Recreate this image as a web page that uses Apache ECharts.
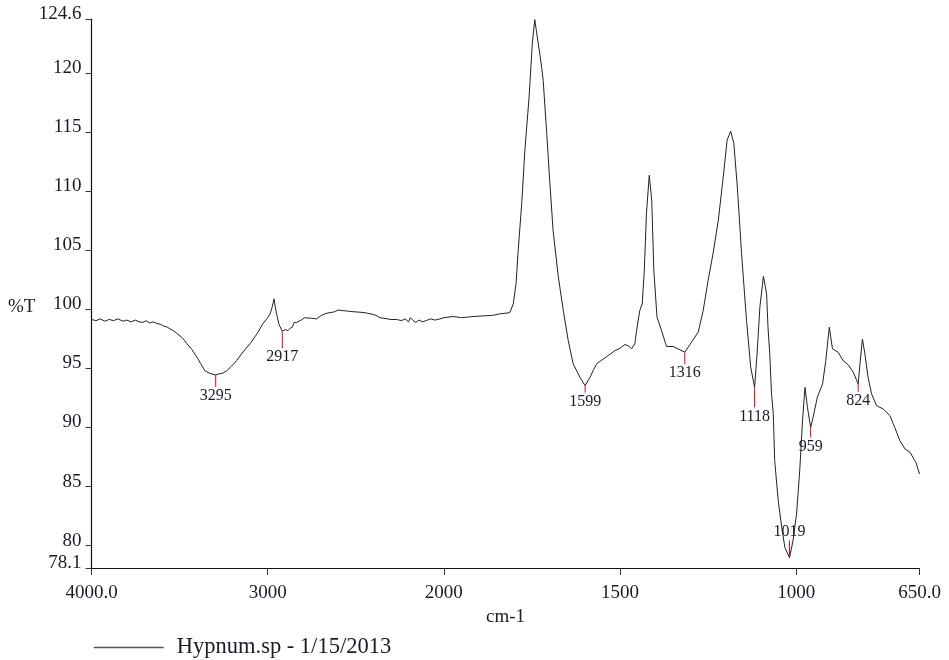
<!DOCTYPE html>
<html>
<head>
<meta charset="utf-8">
<script src="https://cdn.jsdelivr.net/npm/echarts@6/dist/echarts.min.js"></script>
<style>
html, body { margin: 0; padding: 0; background: #fff; }
#Chart { width: 949px; height: 660px; }
</style>
</head>
<body>
<div id="Chart"></div>
<script>
// spectrum (wavenumber cm-1 / %T)
var wavenumbers = [4000, 3975, 3950, 3925, 3900, 3875, 3850, 3821, 3800, 3775, 3750, 3730, 3708, 3690, 3670, 3650, 3628, 3610, 3590, 3570,
    3555, 3535, 3509, 3485, 3458, 3430, 3401, 3380, 3356, 3330, 3310, 3295, 3275, 3255, 3233, 3205, 3176, 3140, 3100, 3060,
    3027, 3005, 2987, 2977, 2968, 2964, 2958, 2949, 2935, 2917, 2900, 2885, 2873, 2860, 2850, 2835, 2810, 2790, 2779, 2750,
    2722, 2700, 2680, 2658, 2620, 2600, 2573, 2540, 2510, 2476, 2440, 2402, 2385, 2363, 2340, 2300, 2268, 2240, 2220, 2200,
    2190, 2175, 2160, 2140, 2120, 2098, 2075, 2050, 2022, 2000, 1974, 1950, 1917, 1890, 1861, 1841, 1818, 1812, 1803, 1795,
    1789, 1779, 1770, 1758, 1749, 1742, 1732, 1726, 1722, 1718, 1708, 1699, 1690, 1675, 1661, 1647, 1633, 1614, 1599, 1585,
    1575, 1566, 1557, 1538, 1515, 1500, 1486, 1475, 1467, 1458, 1453, 1444, 1437, 1431, 1425, 1417, 1410, 1404, 1395, 1382,
    1368, 1349, 1330, 1316, 1297, 1278, 1264, 1250, 1236, 1221, 1207, 1196, 1186, 1177, 1167, 1155, 1141, 1129, 1118, 1111,
    1103, 1093, 1084, 1080, 1075, 1070, 1065, 1061, 1051, 1041, 1032, 1019, 1009, 999, 990, 982, 975, 968, 959, 952,
    940, 925, 916, 906, 897, 881, 867, 852, 838, 824, 818, 812, 805, 796, 786, 772, 753, 734, 720, 706,
    691, 677, 666, 660, 650];
var transmittance = [99.15, 99.05, 99.2, 99.0, 99.15, 99.05, 99.2, 99.0, 99.1, 98.95, 99.1, 98.95, 98.9, 99.05, 98.85, 98.95, 98.8, 98.75, 98.6, 98.5,
    98.36, 98.2, 97.9, 97.6, 97.1, 96.6, 95.95, 95.4, 94.8, 94.6, 94.5, 94.45, 94.55, 94.6, 94.8, 95.2, 95.67, 96.4, 97.1, 97.95,
    98.8, 99.2, 99.6, 100.06, 100.6, 100.9, 100.3, 99.6, 98.7, 98.16, 98.3, 98.2, 98.4, 98.5, 98.9, 98.9, 99.1, 99.3, 99.35, 99.25,
    99.2, 99.45, 99.6, 99.7, 99.8, 99.95, 99.9, 99.85, 99.8, 99.77, 99.7, 99.58, 99.5, 99.3, 99.25, 99.15, 99.15, 99.05, 99.2, 98.95,
    99.3, 99.07, 98.9, 99.1, 98.95, 99.07, 99.2, 99.1, 99.2, 99.3, 99.4, 99.3, 99.4, 99.45, 99.5, 99.63, 99.7, 99.77, 100.48, 102.2,
    105.0, 108.97, 113.5, 118.0, 122.5, 124.55, 122.5, 121.3, 120.4, 119.4, 114.9, 110.67, 106.7, 102.74, 99.9, 97.37, 95.4, 94.26, 93.55, 94.26,
    94.9, 95.4, 95.6, 96.0, 96.5, 96.7, 97.03, 96.9, 96.66, 97.09, 98.2, 99.9, 100.47, 103.3, 108.1, 111.37, 109.25, 103.3, 99.35, 98.2,
    96.86, 96.86, 96.58, 96.38, 97.23, 98.08, 99.9, 102.46, 104.73, 107.55, 111.23, 114.34, 115.1, 114.06, 110.38, 104.73, 99.07, 95.1, 93.4, 96.24,
    100.2, 102.8, 101.33, 98.5, 96.24, 92.85, 91.15, 87.19, 83.8, 81.53, 79.83, 78.98, 80.4, 82.66, 86.34, 90.58, 93.4, 91.7, 90.0, 90.86,
    92.56, 93.7, 95.67, 98.5, 96.66, 96.38, 95.67, 95.3, 94.68, 93.7, 95.67, 97.5, 96.24, 94.26, 92.85, 91.85, 91.57, 91.0, 90.0, 88.9,
    88.18, 87.9, 87.33, 87.04, 86.06];

// picked peaks
var peakLabels = ['3295', '2917', '1599', '1316', '1118', '1019', '959', '824'];
var peakWavenumbers = [3295, 2917, 1599, 1316, 1118, 1019, 959, 824];
var peakValues = [94.45, 98.16, 93.55, 96.38, 93.4, 78.98, 90.0, 93.7];

// axis ticks
var xTickLabels = [4000, 3000, 2000, 1500, 1000, 650];
var yTickLabels = [78.1, 80, 85, 90, 95, 100, 105, 110, 115, 120, 124.6];

var seriesName = 'Hypnum.sp - 1/15/2013';

// instrument scale: 4000-2000 compressed, below 2000 doubled
function toU(w) {
    return w >= 2000 ? 4000 - w : 2000 + (2000 - w) * 2;
}
function fromU(u) {
    return u <= 2000 ? 4000 - u : 2000 - (u - 2000) / 2;
}

var specData = wavenumbers.map(function (w, i) { return [toU(w), transmittance[i]]; });
var peakData = peakWavenumbers.map(function (w, i) { return [toU(w), peakValues[i]]; });
var xTicks = xTickLabels.map(toU);

// red marker lengths, pixels (1019 points up)
var markLen = { '3295': 12, '2917': 17, '1599': 7, '1316': 12, '1118': 20, '1019': 17, '959': 10, '824': 8 };

var serif = '"Liberation Serif", "Times New Roman", serif';
var textColor = '#1a1a2a';

var Chart = echarts.init(document.getElementById('Chart'), null, { renderer: 'canvas' });

var option = {
    animation: false,
    backgroundColor: '#fff',
    grid: { left: 91.5, right: 29.5, top: 19, bottom: 92 },
    legend: {
        data: [seriesName],
        left: 88,
        top: 631,
        itemWidth: 70,
        itemHeight: 14,
        lineStyle: { color: '#555', width: 1.5 },
        itemStyle: { opacity: 0 },
        textStyle: { fontFamily: serif, fontSize: 22.5, color: textColor, padding: [0, 0, 0, 8] }
    },
    graphic: [{
        type: 'text',
        left: 8,
        top: 298,
        style: { text: '%T', font: '19px ' + serif, fill: textColor }
    }],
    xAxis: {
        type: 'value',
        min: 0,
        max: 4700,
        name: 'cm-1',
        nameLocation: 'middle',
        nameGap: 38,
        nameTextStyle: { fontFamily: serif, fontSize: 19, color: textColor },
        splitLine: { show: false },
        axisLine: { lineStyle: { color: '#111', width: 1.2 } },
        axisTick: { customValues: xTicks, length: 7, lineStyle: { color: '#333' } },
        axisLabel: {
            customValues: xTicks,
            margin: 16,
            fontFamily: serif,
            fontSize: 19,
            color: textColor,
            formatter: function (v) {
                var w = fromU(v);
                if (v === 0 || v === 4700) return w.toFixed(1);
                return String(Math.round(w));
            }
        }
    },
    yAxis: {
        type: 'value',
        min: 78.1,
        max: 124.6,
        splitLine: { show: false },
        axisLine: { show: true, lineStyle: { color: '#111', width: 1.2 } },
        axisTick: { show: true, customValues: yTickLabels, length: 6, lineStyle: { color: '#333' } },
        axisLabel: {
            customValues: yTickLabels,
            margin: 10,
            fontFamily: serif,
            fontSize: 19,
            color: textColor,
            verticalAlign: 'bottom',
            lineHeight: 10,
            formatter: function (v) { return String(v); }
        }
    },
    series: [{
        name: seriesName,
        type: 'line',
        data: specData,
        showSymbol: false,
        symbol: 'none',
        lineStyle: { color: '#222', width: 1 },
        itemStyle: { color: '#222' },
        z: 2
    }, {
        name: 'peaks',
        type: 'custom',
        data: peakData,
        z: 3,
        renderItem: function (params, api) {
            var pt = api.coord([api.value(0), api.value(1)]);
            var lab = peakLabels[params.dataIndex];
            var len = markLen[lab];
            var up = lab === '1019';
            var y2 = up ? pt[1] - len : pt[1] + len;
            return {
                type: 'group',
                children: [{
                    type: 'line',
                    shape: { x1: pt[0], y1: pt[1], x2: pt[0], y2: y2 },
                    style: { stroke: '#e8000b', lineWidth: 1 }
                }, {
                    type: 'text',
                    x: pt[0],
                    y: up ? y2 - 9 : y2 + 9,
                    style: {
                        text: lab,
                        font: '16px ' + serif,
                        fill: textColor,
                        align: 'center',
                        verticalAlign: 'middle'
                    }
                }]
            };
        }
    }]
};

Chart.setOption(option);

window.addEventListener('resize', function () {
    Chart.resize();
});
</script>
</body>
</html>
